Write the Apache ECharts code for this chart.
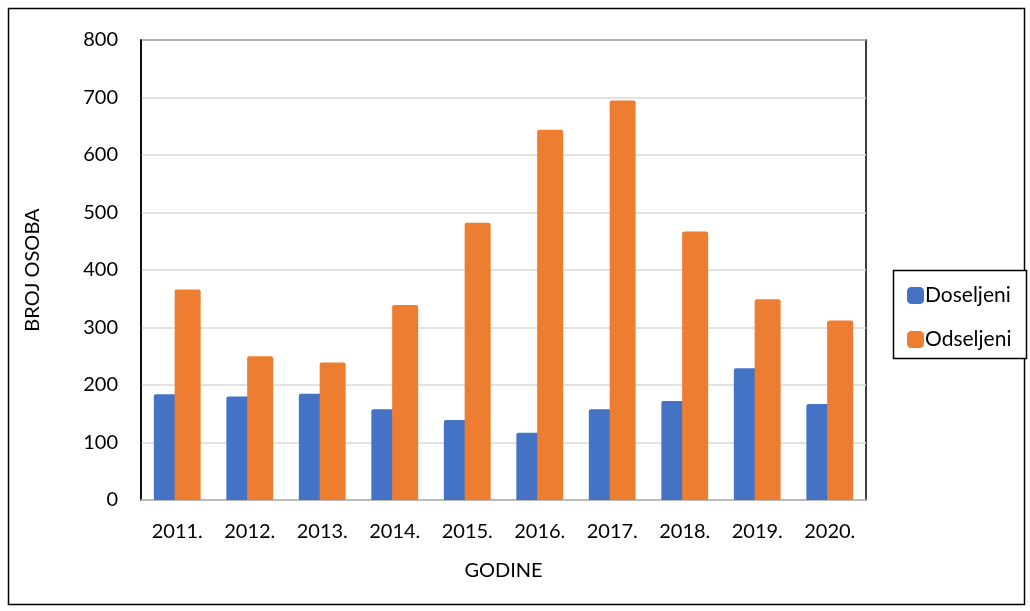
<!DOCTYPE html>
<html><head><meta charset="utf-8">
<script src="https://cdn.jsdelivr.net/npm/echarts@6/dist/echarts.min.js"></script>
<style>html,body{margin:0;padding:0;background:#fff}#c{width:1030px;height:611px}</style>
</head><body><div id="c"></div>
<script>
const categories = ['2011.','2012.','2013.','2014.','2015.','2016.','2017.','2018.','2019.','2020.'];
const doseljeni = [184, 180, 185, 158, 139, 117, 158, 172, 229, 167];
const odseljeni = [366, 250, 239, 339, 482, 644, 695, 467, 349, 312];
const yTicks = [0,100,200,300,400,500,600,700,800];
const FONT = 'Lato';
const FS = 20;
const chart = echarts.init(document.getElementById('c'), null, {renderer:'canvas'});
chart.setOption({
  animation:false,
  textStyle:{fontFamily:FONT},
  graphic:[
    {type:'rect', shape:{x:8.5,y:8.5,width:1016,height:596}, style:{fill:'none',stroke:'#000',lineWidth:1.5}, z:-1},
    {type:'rect', shape:{x:893.5,y:270.5,width:133,height:88}, style:{fill:'#fff',stroke:'#000',lineWidth:1.5}, z:-1}
  ],
  grid:{left:141,right:164,top:40,bottom:111,show:true,borderColor:'#000',borderWidth:1.5,backgroundColor:'transparent'},
  legend:{
    orient:'vertical', left:902, top:280, itemWidth:17, itemHeight:17, itemGap:23,
    itemStyle:{borderRadius:3},
    textStyle:{fontFamily:FONT,fontSize:21,color:'#000',padding:[0,0,0,-4]},
    data:['Doseljeni','Odseljeni']
  },
  xAxis:{
    type:'category', data:categories,
    name:'GODINE', nameLocation:'middle', nameGap:61,
    nameTextStyle:{fontFamily:FONT,fontSize:FS,color:'#000'},
    axisLine:{lineStyle:{color:'#bfbfbf',width:1.5}},
    axisTick:{show:false},
    axisLabel:{fontFamily:FONT,fontSize:FS,color:'#000',margin:22}
  },
  yAxis:{
    type:'value', min:yTicks[0], max:yTicks[yTicks.length-1], interval:100,
    name:'BROJ OSOBA', nameLocation:'middle', nameGap:98, nameRotate:90,
    nameTextStyle:{fontFamily:FONT,fontSize:FS,color:'#000'},
    axisLine:{show:true,lineStyle:{color:'#000',width:1.5}},
    axisTick:{show:false},
    axisLabel:{fontFamily:FONT,fontSize:FS,color:'#000',margin:23},
    splitLine:{lineStyle:{color:'#d9d9d9',width:1.5}}
  },
  series:[
    {name:'Doseljeni', type:'bar', data:doseljeni, barWidth:26, barGap:'-20%',
     itemStyle:{color:'#4472c4',borderRadius:[2,2,0,0]}},
    {name:'Odseljeni', type:'bar', data:odseljeni, barWidth:26,
     itemStyle:{color:'#ed7d31',borderRadius:[2,2,0,0]}}
  ]
});
</script></body></html>
